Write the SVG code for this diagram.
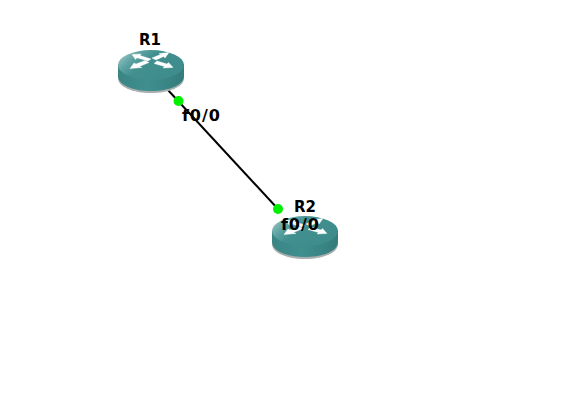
<svg xmlns="http://www.w3.org/2000/svg" width="586" height="420" viewBox="0 0 586 420">
<style>
text{font-family:"DejaVu Sans",Verdana,sans-serif;font-weight:bold;fill:#000}
.name{font-size:15px}
.port{font-size:16px;letter-spacing:.9px}
.conn{stroke:#000;stroke-width:2;fill:none}
.dot{fill:#00f000}
.shadow{fill:#a9aeae}
.side{fill:url(#sideG)}
.top{fill:url(#topG)}
.arrow{fill:#fff;stroke:#fff;stroke-width:.4}
</style>
<defs>
<linearGradient id="sideG" x1="0" x2="1" y1="0" y2="0"><stop offset="0" stop-color="#3b8484"/><stop offset=".45" stop-color="#3f8f8f"/><stop offset="1" stop-color="#357c7c"/></linearGradient>
<linearGradient id="topG" x1="0" x2="1" y1="0" y2="0.5"><stop offset="0" stop-color="#b2d0d0"/><stop offset=".3" stop-color="#5da2a2"/><stop offset=".5" stop-color="#418f8f"/><stop offset="1" stop-color="#3f8c8c"/></linearGradient>
<g id="router">
<path class="shadow" d="M0 15V28C0 37 15 43 33 43S66 37 66 28V15Z"/>
<path class="side" d="M0 14V26C0 35 15 41 33 41S66 35 66 26V14Z"/>
<ellipse class="top" cx="33" cy="15" rx="33" ry="15"/>
<g transform="translate(0,1.500)">
<path class="arrow" d="M14 3L23 2.500L22 4L33 7.500L30 9.500L19 6.200L17.500 8Z"/>
<path class="arrow" d="M51 1L47 6.500L45.500 5L38 8.500L34 6.500L43 2.800L41 2Z"/>
<path class="arrow" d="M12 17L16 11.500L18 12.500L27 9L31 11L21.500 15L24 16Z"/>
<path class="arrow" d="M55 16L45 16.500L46.500 15L36 12L39 9.500L49 12.500L50.500 11Z"/>
</g>
</g>
</defs>
<g id="connectors"><line class="conn" x1="167" y1="89" x2="278" y2="209"/></g>
<g id="R1"><use href="#router" x="118" y="50"/><text class="name" x="150" y="45" text-anchor="middle">R1</text></g>
<g id="R2"><use href="#router" x="272" y="216"/><text class="name" x="305" y="212" text-anchor="middle">R2</text></g>
<g id="iface-R1"><circle class="dot" cx="178.500" cy="101" r="5"/><text class="port" x="182" y="121">f0/0</text></g>
<g id="iface-R2"><circle class="dot" cx="278" cy="209" r="5"/><text class="port" x="281" y="230">f0/0</text></g>
</svg>
